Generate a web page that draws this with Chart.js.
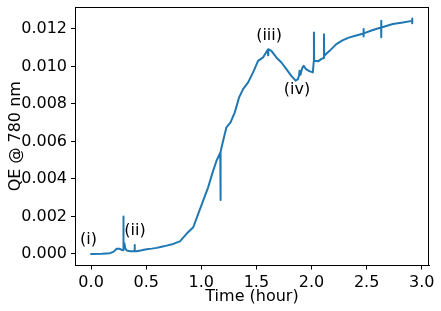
<!DOCTYPE html>
<html>
<head>
<meta charset="utf-8">
<script src="https://cdn.jsdelivr.net/npm/chart.js@4"></script>
<style>
  html, body { margin: 0; padding: 0; background: #fff; }
  canvas { display: block; }
</style>
</head>
<body>
<canvas id="c" width="441" height="311"></canvas>
<script>
// Time (hour)
const times = [
  0.000, 0.100, 0.172, 0.205, 0.232, 0.257, 0.278, 0.291, 0.293, 0.295, 0.302, 0.310, 0.323, 0.353,
  0.393, 0.395, 0.397, 0.414, 0.460, 0.504, 0.550, 0.595, 0.640, 0.685, 0.746, 0.806, 0.866, 0.927,
  0.972, 1.017, 1.062, 1.108, 1.138, 1.172, 1.174, 1.176, 1.198, 1.228, 1.265, 1.304, 1.343, 1.379,
  1.425, 1.470, 1.515, 1.560, 1.604, 1.606, 1.608, 1.636, 1.681, 1.727, 1.772, 1.817, 1.856, 1.877,
  1.886, 1.892, 1.900, 1.915, 1.929, 1.950, 1.980, 2.012, 2.020, 2.022, 2.024, 2.028, 2.060, 2.090,
  2.111, 2.113, 2.115, 2.130, 2.164, 2.225, 2.285, 2.345, 2.406, 2.471, 2.472, 2.473, 2.474, 2.557,
  2.631, 2.632, 2.633, 2.634, 2.738, 2.828, 2.912, 2.913, 2.914, 2.915
];
// QE @ 780 nm
const qe = [
  0.00000, 0.00001, 0.00004, 0.00012, 0.00027, 0.00028, 0.00021, 0.00020, 0.00199, 0.00030, 0.00057, 0.00030, 0.00018, 0.00014,
  0.00014, 0.00048, 0.00014, 0.00014, 0.00019, 0.00025, 0.00028, 0.00032, 0.00038, 0.00044, 0.00053, 0.00067, 0.00107, 0.00142,
  0.00213, 0.00284, 0.00355, 0.00444, 0.00497, 0.00540, 0.00288, 0.00545, 0.00604, 0.00675, 0.00702, 0.00755, 0.00835, 0.00879,
  0.00915, 0.00968, 0.01030, 0.01048, 0.01090, 0.01060, 0.01092, 0.01083, 0.01048, 0.01021, 0.00986, 0.00950, 0.00924, 0.00932,
  0.00950, 0.00977, 0.00955, 0.00990, 0.01003, 0.00986, 0.00975, 0.00968, 0.01025, 0.01181, 0.01030, 0.01030, 0.01027, 0.01040,
  0.01045, 0.01172, 0.01055, 0.01065, 0.01083, 0.01119, 0.01140, 0.01155, 0.01165, 0.01176, 0.01200, 0.01160, 0.01176, 0.01194,
  0.01208, 0.01243, 0.01155, 0.01208, 0.01226, 0.01234, 0.01243, 0.01255, 0.01230, 0.01243
];
// Annotation labels (text, time, qe)
const labelTexts = ["(i)", "(ii)", "(iii)", "(iv)"];
const labelTimes = [-0.024, 0.398, 1.615, 1.868];
const labelQE = [0.00075, 0.00124, 0.01163, 0.00874];

const xTicks = [0.0, 0.5, 1.0, 1.5, 2.0, 2.5, 3.0];
const yTicks = [0.000, 0.002, 0.004, 0.006, 0.008, 0.010, 0.012];

const FONT = "'DejaVu Sans', sans-serif";
const FS = 16;
const points = times.map((t, i) => ({ x: t, y: qe[i] }));

const boxPlugin = {
  id: 'box',
  afterDatasetsDraw(chart) {
    const { ctx, chartArea: a, scales } = chart;
    ctx.save();
    ctx.strokeStyle = '#000';
    ctx.lineWidth = 1;
    ctx.strokeRect(Math.round(a.left) + 0.5, Math.round(a.top) + 0.5,
                   Math.round(a.right - a.left) - 1, Math.round(a.bottom - a.top) - 1);
    ctx.fillStyle = '#000';
    ctx.font = FS + 'px ' + FONT;
    ctx.textAlign = 'center';
    ctx.textBaseline = 'middle';
    labelTexts.forEach((txt, i) => {
      ctx.fillText(txt, scales.x.getPixelForValue(labelTimes[i]), scales.y.getPixelForValue(labelQE[i]));
    });
    ctx.restore();
  }
};

new Chart(document.getElementById('c'), {
  type: 'scatter',
  data: {
    datasets: [{
      data: points,
      showLine: true,
      borderColor: '#1f77b4',
      backgroundColor: '#1f77b4',
      borderWidth: 2,
      pointRadius: 0,
      tension: 0,
      borderJoinStyle: 'round',
      borderCapStyle: 'round'
    }]
  },
  options: {
    responsive: false,
    animation: false,
    events: [],
    layout: { padding: { left: 0, right: 12, top: 7, bottom: 0 } },
    plugins: { legend: { display: false }, tooltip: { enabled: false } },
    scales: {
      x: {
        type: 'linear',
        min: -0.146,
        max: 3.066,
        afterFit(s) { s.height = 45.5; s.paddingLeft = 0; s.paddingRight = 0; },
        afterBuildTicks(s) { s.ticks = xTicks.map(v => ({ value: v })); },
        ticks: {
          includeBounds: false,
          color: '#000',
          font: { family: FONT, size: FS },
          padding: 4,
          maxRotation: 0,
          callback: v => Number(v).toFixed(1)
        },
        grid: { drawOnChartArea: false, drawTicks: true, tickLength: 4, color: '#000' },
        border: { display: true, color: '#000' },
        title: {
          display: true, text: 'Time (hour)', color: '#000',
          font: { family: FONT, size: FS }, padding: { top: 0, bottom: 5 }
        }
      },
      y: {
        type: 'linear',
        min: -0.00062,
        max: 0.01317,
        afterFit(s) { s.width = 75; s.paddingTop = 0; s.paddingBottom = 0; },
        afterBuildTicks(s) { s.ticks = yTicks.map(v => ({ value: v })); },
        ticks: {
          includeBounds: false,
          color: '#000',
          font: { family: FONT, size: FS },
          padding: 4,
          callback: v => Number(v).toFixed(3)
        },
        grid: { drawOnChartArea: false, drawTicks: true, tickLength: 4, color: '#000' },
        border: { display: true, color: '#000' },
        title: {
          display: true, text: 'QE @ 780 nm', color: '#000',
          font: { family: FONT, size: FS }, padding: { top: 6, bottom: 0 }
        }
      }
    }
  },
  plugins: [boxPlugin]
});
</script>
</body>
</html>
